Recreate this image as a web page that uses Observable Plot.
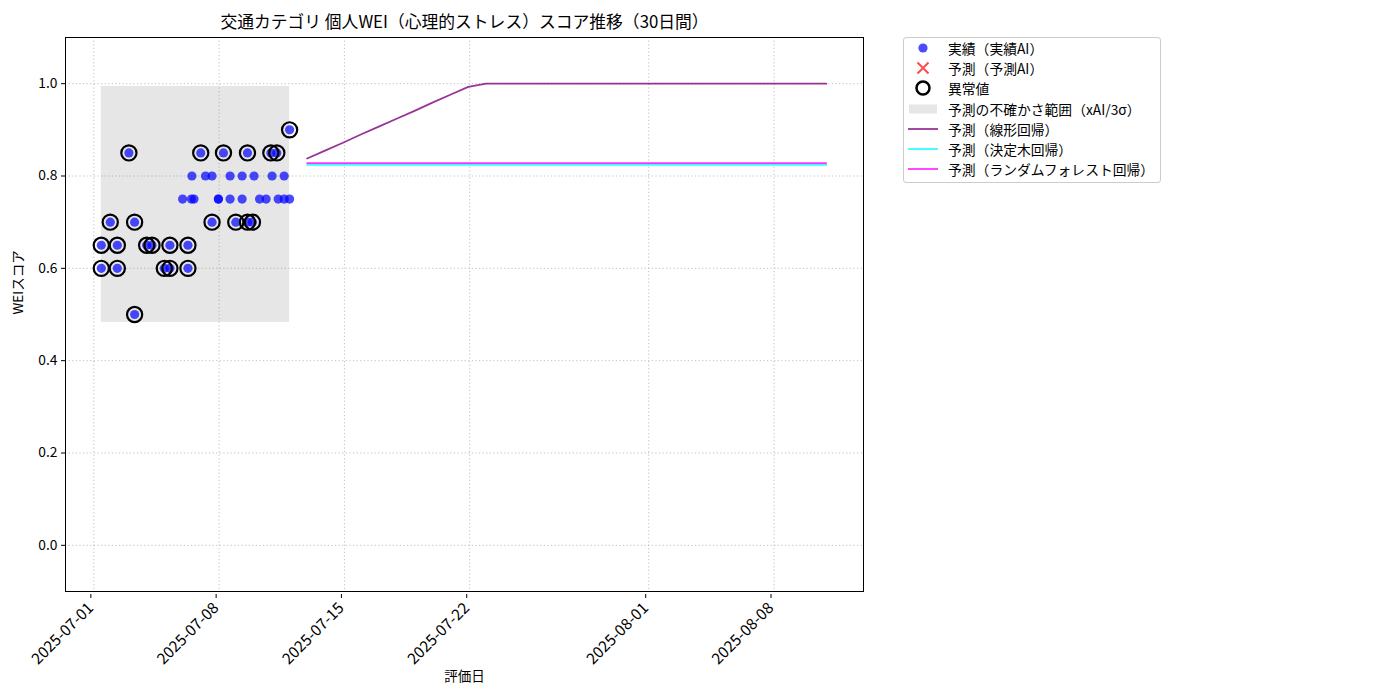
<!DOCTYPE html>
<html>
<head>
<meta charset="utf-8">
<script src="https://cdn.jsdelivr.net/npm/d3@7"></script>
<script src="https://cdn.jsdelivr.net/npm/@observablehq/plot@0.6"></script>
<style>
  html, body { margin: 0; padding: 0; background: white; }
  #wrap { position: relative; width: 1400px; height: 700px; font-family: 'Noto Sans CJK JP', sans-serif; }
  #legend { position: absolute; left: 903px; top: 37px; width: 256px; height: 144px; border: 1px solid #cccccc; border-radius: 3px; background: white; font-size: 13.8px; color: #000; }
  .row { position: absolute; left: 0; height: 20px; display: flex; align-items: center; }
  .row svg { width: 40px; height: 20px; }
  .row span { margin-left: 4px; white-space: nowrap; }
</style>
</head>
<body>
<div id="wrap"><div id="chart"></div><div id="legend"></div></div>
<script>
// ---- data ----
const actualDates = [
  "2025-07-01T10:00Z","2025-07-02T07:30Z","2025-07-04T22:30Z","2025-07-05T06:00Z","2025-07-06T06:10Z",
  "2025-07-01T10:00Z","2025-07-02T07:30Z","2025-07-03T22:50Z","2025-07-04T06:00Z","2025-07-05T06:00Z","2025-07-06T06:10Z",
  "2025-07-01T22:00Z","2025-07-03T06:40Z","2025-07-07T14:30Z","2025-07-08T22:20Z","2025-07-09T14:00Z","2025-07-09T20:40Z",
  "2025-07-03T06:40Z",
  "2025-07-02T23:00Z","2025-07-06T23:20Z","2025-07-08T05:50Z","2025-07-09T14:00Z","2025-07-10T21:20Z","2025-07-11T05:20Z",
  "2025-07-11T22:30Z",
  "2025-07-06T11:30Z","2025-07-07T05:40Z","2025-07-07T14:30Z","2025-07-08T14:40Z","2025-07-09T06:50Z","2025-07-09T22:50Z","2025-07-10T23:00Z","2025-07-11T15:10Z",
  "2025-07-05T23:00Z","2025-07-06T10:50Z","2025-07-06T14:20Z","2025-07-07T23:00Z","2025-07-07T23:00Z","2025-07-08T14:40Z","2025-07-09T06:50Z","2025-07-10T06:10Z","2025-07-10T15:00Z","2025-07-11T07:10Z","2025-07-11T15:10Z","2025-07-11T22:30Z"
];
const actualValues = [
  0.60,0.60,0.60,0.60,0.60,
  0.65,0.65,0.65,0.65,0.65,0.65,
  0.70,0.70,0.70,0.70,0.70,0.70,
  0.50,
  0.85,0.85,0.85,0.85,0.85,0.85,
  0.90,
  0.80,0.80,0.80,0.80,0.80,0.80,0.80,0.80,
  0.75,0.75,0.75,0.75,0.75,0.75,0.75,0.75,0.75,0.75,0.75,0.75
];
const anomalyFlags = [
  1,1,1,1,1,
  1,1,1,1,1,1,
  1,1,1,1,1,1,
  1,
  1,1,1,1,1,1,
  1,
  0,0,0,0,0,0,0,0,
  0,0,0,0,0,0,0,0,0,0,0,0
];
const predDates = [
  "2025-07-12T22:00Z","2025-07-13T22:00Z","2025-07-14T22:00Z","2025-07-15T22:00Z","2025-07-16T22:00Z",
  "2025-07-17T22:00Z","2025-07-18T22:00Z","2025-07-19T22:00Z","2025-07-20T22:00Z","2025-07-21T22:00Z",
  "2025-07-22T22:00Z","2025-07-23T22:00Z","2025-07-24T22:00Z","2025-07-25T22:00Z","2025-07-26T22:00Z",
  "2025-07-27T22:00Z","2025-07-28T22:00Z","2025-07-29T22:00Z","2025-07-30T22:00Z","2025-07-31T22:00Z",
  "2025-08-01T22:00Z","2025-08-02T22:00Z","2025-08-03T22:00Z","2025-08-04T22:00Z","2025-08-05T22:00Z",
  "2025-08-06T22:00Z","2025-08-07T22:00Z","2025-08-08T22:00Z","2025-08-09T22:00Z","2025-08-10T22:00Z"
];
const linearValues = [0.838,0.855,0.872,0.890,0.907,0.924,0.941,0.959,0.976,0.993,
  1.0,1.0,1.0,1.0,1.0,1.0,1.0,1.0,1.0,1.0,1.0,1.0,1.0,1.0,1.0,1.0,1.0,1.0,1.0,1.0];
const treeValues = [0.824,0.824,0.824,0.824,0.824,0.824,0.824,0.824,0.824,0.824,
  0.824,0.824,0.824,0.824,0.824,0.824,0.824,0.824,0.824,0.824,0.824,0.824,0.824,0.824,0.824,0.824,0.824,0.824,0.824,0.824];
const forestValues = [0.828,0.828,0.828,0.828,0.828,0.828,0.828,0.828,0.828,0.828,
  0.828,0.828,0.828,0.828,0.828,0.828,0.828,0.828,0.828,0.828,0.828,0.828,0.828,0.828,0.828,0.828,0.828,0.828,0.828,0.828];
const bandStart = "2025-07-01T10:00Z";
const bandEnd = "2025-07-11T22:30Z";
const bandLow = 0.483;
const bandHigh = 0.994;
const xTickLabels = ["2025-07-01","2025-07-08","2025-07-15","2025-07-22","2025-08-01","2025-08-08"];
const yTickValues = [0.0,0.2,0.4,0.6,0.8,1.0];
const xDomain = ["2025-06-29T10:00Z","2025-08-13T00:00Z"];
const yDomain = [-0.1, 1.1];

// ---- build tables ----
const actual = actualDates.map((d,i)=>({date:new Date(d), value:actualValues[i], anomaly:anomalyFlags[i]}));
const anomalies = actual.filter(d=>d.anomaly===1);
const pred = predDates.map((d,i)=>({date:new Date(d), linear:linearValues[i], tree:treeValues[i], forest:forestValues[i]}));
const band = [{x1:new Date(bandStart), x2:new Date(bandEnd), y1:bandLow, y2:bandHigh}];
const xTicks = xTickLabels.map(s=>new Date(s+"T00:00Z"));

const gridStyle = {stroke:"#b0b0b0", strokeOpacity:1, strokeWidth:0.8, strokeDasharray:"1.2,2.4"};

const chart = Plot.plot({
  width: 1400, height: 700,
  marginLeft: 65, marginRight: 537, marginTop: 37, marginBottom: 109,
  style: {fontFamily:"'Noto Sans CJK JP', sans-serif", fontSize:"13px", background:"white", color:"black", overflow:"visible"},
  x: {type:"utc", domain: xDomain.map(d=>new Date(d))},
  y: {domain: yDomain},
  marks: [
    Plot.gridX(xTicks, gridStyle),
    Plot.gridY(yTickValues, gridStyle),
    Plot.rect(band, {x1:"x1", x2:"x2", y1:"y1", y2:"y2", fill:"gray", fillOpacity:0.2}),
    Plot.line(pred, {x:"date", y:"linear", stroke:"purple", strokeOpacity:0.8, strokeWidth:1.8}),
    Plot.line(pred, {x:"date", y:"tree", stroke:"cyan", strokeOpacity:0.8, strokeWidth:1.8}),
    Plot.line(pred, {x:"date", y:"forest", stroke:"magenta", strokeOpacity:0.8, strokeWidth:1.8}),
    Plot.dot(actual, {x:"date", y:"value", r:4.6, fill:"blue", fillOpacity:0.7, stroke:"none"}),
    Plot.dot(anomalies, {x:"date", y:"value", r:7.6, fill:"none", stroke:"black", strokeWidth:2.2}),
    Plot.frame({stroke:"black", strokeWidth:1}),
    Plot.axisX(xTicks, {tickRotate:-45, tickFormat:d3.utcFormat("%Y-%m-%d"), tickSize:4, tickPadding:7, label:null, fontSize:15.5, dx:-3, dy:3}),
    Plot.axisY(yTickValues, {tickFormat:d3.format(".1f"), tickSize:4, tickPadding:4, label:null, fontSize:13.8}),
    Plot.text(["交通カテゴリ 個人WEI（心理的ストレス）スコア推移（30日間）"], {frameAnchor:"top", lineAnchor:"middle", dy:-15, fontSize:16.8, text:d=>d}),
    Plot.text(["評価日"], {frameAnchor:"bottom", lineAnchor:"middle", dy:85, fontSize:13.5, text:d=>d}),
    Plot.text(["WEIスコア"], {frameAnchor:"left", dx:-47, rotate:-90, fontSize:13.5, text:d=>d})
  ]
});
document.getElementById("chart").appendChild(chart);

// ---- legend ----
const legendItems = [
  {label:"実績（実績AI）", kind:"dot"},
  {label:"予測（予測AI）", kind:"x"},
  {label:"異常値", kind:"ring"},
  {label:"予測の不確かさ範囲（xAI/3σ）", kind:"patch"},
  {label:"予測（線形回帰）", kind:"line", color:"purple"},
  {label:"予測（決定木回帰）", kind:"line", color:"cyan"},
  {label:"予測（ランダムフォレスト回帰）", kind:"line", color:"magenta"}
];
const legend = document.getElementById("legend");
legendItems.forEach((it,i)=>{
  const row = document.createElement("div");
  row.className = "row";
  row.style.top = (0 + i*20.2) + "px";
  let sw = "";
  if (it.kind==="dot") sw = '<circle cx="19" cy="10" r="4.6" fill="blue" fill-opacity="0.7"/>';
  else if (it.kind==="x") sw = '<path d="M13.5,4.5L24.5,15.5M24.5,4.5L13.5,15.5" stroke="red" stroke-opacity="0.7" stroke-width="2"/>';
  else if (it.kind==="ring") sw = '<circle cx="19" cy="10" r="6.5" fill="none" stroke="black" stroke-width="2.5"/>';
  else if (it.kind==="patch") sw = '<rect x="5" y="5.5" width="28" height="9" fill="gray" fill-opacity="0.2"/>';
  else sw = `<line x1="4" x2="34" y1="10" y2="10" stroke="${it.color}" stroke-opacity="0.8" stroke-width="1.8"/>`;
  row.innerHTML = `<svg>${sw}</svg><span>${it.label}</span>`;
  legend.appendChild(row);
});
</script>
</body>
</html>
